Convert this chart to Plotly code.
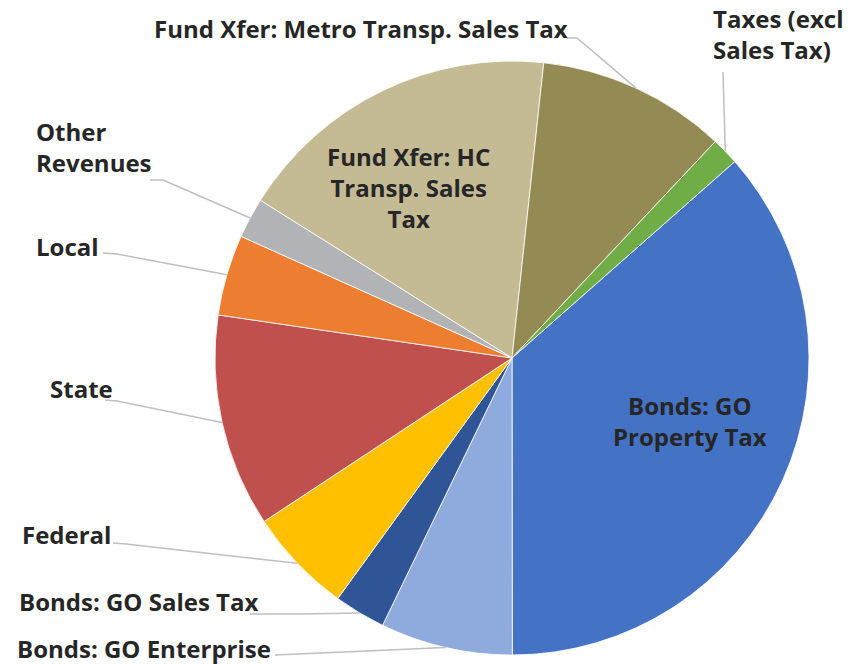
import math
import plotly.graph_objects as go

# page body has an 8px default margin; work in reference pixel coords and shift
OFF = 8
W, H = 859 - OFF, 664 - OFF

labels = ["Bonds: GO Property Tax", "Bonds: GO Enterprise", "Bonds: GO Sales Tax",
          "Federal", "State", "Local", "Other Revenues",
          "Fund Xfer: HC Transp. Sales Tax", "Fund Xfer: Metro Transp. Sales Tax",
          "Taxes (excl Sales Tax)"]
values = [36.5, 7.2, 2.8, 5.75, 11.6, 4.4, 2.2, 17.8, 10.3, 1.5]
colors = ["#4472C4", "#8FAADC", "#2F5597", "#FFC000", "#C0504D", "#ED7D31",
          "#B2B3B6", "#C4BA94", "#948A54", "#70AD47"]

display = {
    "Bonds: GO Property Tax": "Bonds: GO<br>Property Tax",
    "Bonds: GO Enterprise": "Bonds: GO Enterprise",
    "Bonds: GO Sales Tax": "Bonds: GO Sales Tax",
    "Federal": "Federal",
    "State": "State",
    "Local": "Local",
    "Other Revenues": "Other<br>Revenues",
    "Fund Xfer: HC Transp. Sales Tax": "Fund Xfer: HC<br>Transp. Sales<br>Tax",
    "Fund Xfer: Metro Transp. Sales Tax": "Fund Xfer: Metro Transp. Sales Tax",
    "Taxes (excl Sales Tax)": "Taxes (excl<br>Sales Tax)",
}

ROT = 48.6
CX, CY, R = 512, 358, 297

label_layout = {
    "Bonds: GO Property Tax": (690, 421, "center", "center", None, None),
    "Fund Xfer: HC Transp. Sales Tax": (408, 187, "center", "center", None, None),
    "Bonds: GO Enterprise": (15, 648, "left", "left", (275, 655), (275, 655)),
    "Bonds: GO Sales Tax": (17, 601, "left", "left", (250, 614), (300, 614)),
    "Federal": (20, 534, "left", "left", (113, 543), (126, 544)),
    "State": (48, 388, "left", "left", (105, 400), (117, 401)),
    "Local": (34, 246, "left", "left", (103, 253), (117, 254)),
    "Other Revenues": (34, 147, "left", "left", (150, 180), (163, 180)),
    "Fund Xfer: Metro Transp. Sales Tax": (152, 28, "left", "left", (567, 38), (577, 38)),
    "Taxes (excl Sales Tax)": (711, 34, "left", "left", (723, 72), (723, 72)),
}


def px(x, y):
    return (x - OFF) / W, 1 - (y - OFF) / H


x0, y1 = px(CX - R, CY - R)
x1, y0 = px(CX + R, CY + R)

fig = go.Figure(go.Pie(
    labels=labels, values=values, sort=False, direction="clockwise", rotation=ROT,
    marker=dict(colors=colors, line=dict(color="white", width=0.8)),
    textinfo="none", hoverinfo="label+percent", showlegend=False,
    domain=dict(x=[x0, x1], y=[y0, y1]),
))

total = sum(values)
cum = 0.0
shapes = []
annotations = []
for lab, v in zip(labels, values):
    mid = ROT + (cum + v / 2) / total * 360
    cum += v
    ex = CX + R * math.sin(math.radians(mid))
    ey = CY - R * math.cos(math.radians(mid))
    tx, ty, xa, al, s, e = label_layout[lab]
    ax_, ay_ = px(tx, ty)
    annotations.append(dict(
        x=ax_, y=ay_, xref="paper", yref="paper", text=display[lab], showarrow=False,
        xanchor=xa, yanchor="middle", align=al,
        font=dict(family="Open Sans, Inter, sans-serif", size=24, color="#262626", weight="bold"),
    ))
    if s is not None:
        p0, p1, p2 = px(*s), px(*e), px(ex, ey)
        shapes.append(dict(
            type="path", xref="paper", yref="paper",
            path=f"M {p0[0]} {p0[1]} L {p1[0]} {p1[1]} L {p2[0]} {p2[1]}",
            line=dict(color="#BFBFBF", width=1.5),
        ))

fig.update_layout(
    width=W, height=H, margin=dict(l=0, r=0, t=0, b=0),
    paper_bgcolor="white", plot_bgcolor="white",
    shapes=shapes, annotations=annotations,
)

fig.write_html("out.html")
